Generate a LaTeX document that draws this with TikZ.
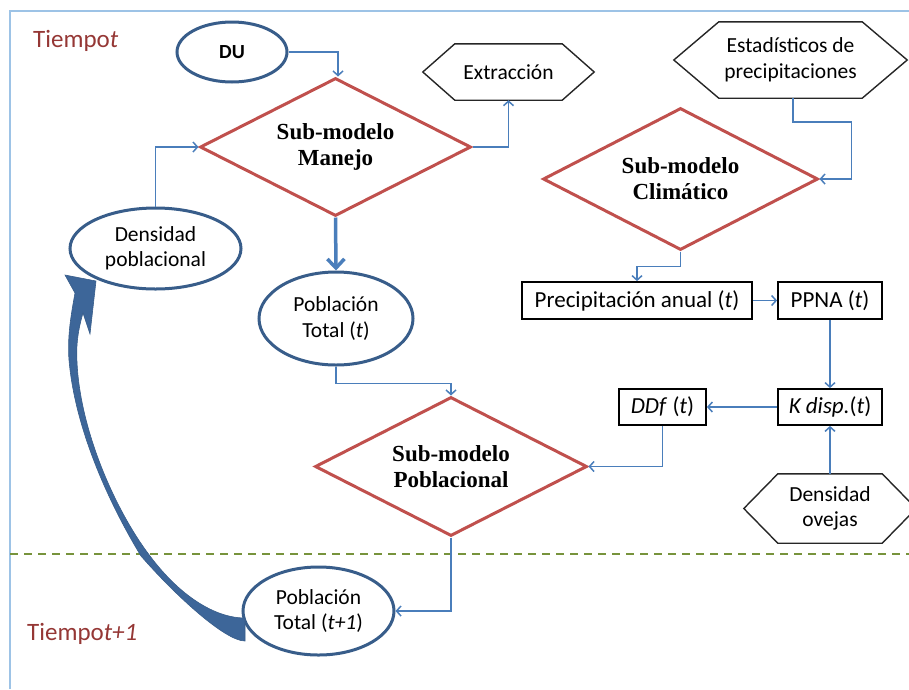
\documentclass[tikz,border=0pt]{standalone}
\usepackage{fontspec}
\setmainfont{Carlito}
\newfontfamily\tnr{Liberation Serif}
\usetikzlibrary{shapes.geometric,arrows.meta,calc}

\definecolor{framec}{HTML}{9DC3E6}
\definecolor{ellc}{HTML}{385D8A}
\definecolor{diac}{HTML}{C0504D}
\definecolor{connc}{HTML}{4A7EBB}
\definecolor{timec}{HTML}{953735}
\definecolor{dashc}{HTML}{77933C}
\definecolor{swooshc}{HTML}{3D6699}

\tikzset{
  sanstext/.style={font=\fontsize{21.5}{25.5}\selectfont, align=center},
  ovalnode/.style={ellipse, draw=ellc, line width=3pt, inner sep=0pt, sanstext},
  submodel/.style={diamond, draw=diac, line width=3pt, inner sep=0pt, aspect=2,
    align=center, font=\tnr\bfseries\fontsize{23}{26}\selectfont},
  boxnode/.style={rectangle, draw=black, line width=1.8pt, inner sep=0pt,
    font=\fontsize{23}{27}\selectfont},
  hexbody/.style={inner sep=0pt, sanstext},
  hexline/.style={draw=black!85, line width=1.4pt},
  conn/.style={draw=connc, line width=1.5pt, -{Straight Barb[length=4.5pt,width=10pt]}},
  thickconn/.style={draw=connc, line width=3.5pt, -{Straight Barb[length=9pt,width=17pt]}},
  timelabel/.style={text=timec, font=\fontsize{25}{30}\selectfont, inner sep=0pt, anchor=base west},
  swoosh/.style={fill=swooshc, draw=ellc, line width=0.6pt},
}

\newcommand{\hexagonaround}[2]{%
  \draw[hexline] (#1.west) -- ([xshift=#2]#1.north west) -- ([xshift=-#2]#1.north east)
    -- (#1.east) -- ([xshift=-#2]#1.south east) -- ([xshift=#2]#1.south west) -- cycle;}

\begin{document}
\begin{tikzpicture}[x=1pt, y=-1pt]
\useasboundingbox (0,0) rectangle (909,689);

% outer frame and time divider
\draw[framec, line width=2pt] (10,689) -- (10,11) -- (909,11);
\draw[dashc, line width=1.5pt, dash pattern=on 8pt off 6pt] (10,554) -- (909,554);

% time labels
\node[timelabel] (tiempo0) at (33,47) {Tiempo\textit{t}};
\node[timelabel] (tiempo1) at (27,640) {Tiempo\textit{t+1}};

% management sub-model
\node[ovalnode, minimum width=110pt, minimum height=60pt, font=\bfseries\fontsize{20}{25}\selectfont] (du) at (232,52) {DU};
\node[submodel, minimum width=271pt, minimum height=138pt] (manejo) at (335.5,147) {Sub-modelo\\Manejo};
\node[hexbody, minimum width=171pt, minimum height=56pt] (extr) at (508.5,72) {Extracción};
\hexagonaround{extr}{32pt}
\node[ovalnode, minimum width=171pt, minimum height=81pt] (densp) at (155.5,248.5) {Densidad\\poblacional};
\node[ovalnode, minimum width=154pt, minimum height=93pt] (pobt) at (336,318.5) {Población\\Total (\textit{t})};

% climate sub-model
\node[hexbody, minimum width=233pt, minimum height=76pt] (estad) at (790.5,60) {Estadísticos de\\precipitaciones};
\hexagonaround{estad}{45pt}
\node[submodel, minimum width=275pt, minimum height=142pt] (clima) at (680.5,179) {Sub-modelo\\Climático};
\node[boxnode, minimum width=230pt, minimum height=37pt] (precip) at (637,300.5) {Precipitación anual (\textit{t})};
\node[boxnode, minimum width=104pt, minimum height=37pt] (ppna) at (830,300.5) {PPNA (\textit{t})};
\node[boxnode, minimum width=104pt, minimum height=36pt] (kdisp) at (830,407) {\textit{K disp.}(\textit{t})};
\node[boxnode, minimum width=87pt, minimum height=36pt] (ddf) at (662.5,407) {\textit{DDf} (\textit{t})};
\node[hexbody, minimum width=172pt, minimum height=69pt] (ovejas) at (830,508.5) {Densidad\\ovejas};
\hexagonaround{ovejas}{34pt}

% population sub-model
\node[submodel, minimum width=272pt, minimum height=139pt] (pobl) at (451,466.5) {Sub-modelo\\Poblacional};
\node[ovalnode, minimum width=151pt, minimum height=88pt] (pobt1) at (318.5,611) {Población\\Total (\textit{t+1})};

% connectors
\draw[conn] (du.east) -| ([xshift=2.5pt]manejo.north);
\draw[conn] (manejo.east) -| (extr.south);
\draw[conn] ([xshift=2.5pt]estad.south) -- ++(0,24) -| ($(clima.east)+(32,0)$) -- (clima.east);
\draw[conn] (clima.south) -- ++(0,15) -| (precip.north);
\draw[conn] (precip.east) -- (ppna.west);
\draw[conn] (ppna.south) -- (kdisp.north);
\draw[conn] (kdisp.west) -- (ddf.east);
\draw[conn] (ovejas.north) -- (kdisp.south);
\draw[conn] (ddf.south) |- (pobl.east);
\draw[thickconn] (manejo.south) -- (pobt.north);
\draw[conn] (pobt.south) -- ++(0,17) -| (pobl.north);
\draw[conn] (densp.north) |- (manejo.west);
\draw[conn] (pobl.south) |- (pobt1.east);

% curved feedback arrow from the next-step population back to population density
\filldraw[swoosh] (245,641) .. controls (225,641) and (175,595) .. (141,556)
  .. controls (110,505) and (75,430) .. (69,360)
  .. controls (67,335) and (72,310) .. (75,293)
  -- (65,275) -- (96,281) -- (90,334) -- (83,313)
  .. controls (78,330) and (76,345) .. (77,362)
  .. controls (80,430) and (115,510) .. (150,556)
  .. controls (180,596) and (215,618) .. (245,618)
  -- cycle;
\end{tikzpicture}
\end{document}
